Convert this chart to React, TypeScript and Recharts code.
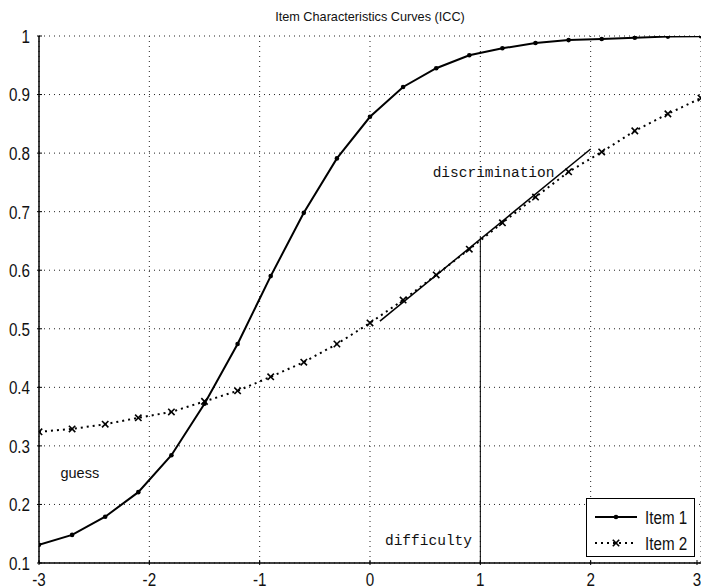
import {
  CartesianGrid,
  ComposedChart,
  Legend,
  Line,
  ReferenceDot,
  ReferenceLine,
  XAxis,
  YAxis
} from "recharts";

const theta = [-3, -2.7, -2.4, -2.1, -1.8, -1.5, -1.2, -0.9, -0.6, -0.3, 0, 0.3, 0.6, 0.9, 1.2, 1.5, 1.8, 2.1, 2.4, 2.7, 3];
const item1 = [0.131, 0.148, 0.179, 0.221, 0.284, 0.372, 0.474, 0.59, 0.698, 0.791, 0.862, 0.913, 0.945, 0.967, 0.979, 0.988, 0.993, 0.995, 0.997, 0.999, 0.9995];
const item2 = [0.324, 0.329, 0.337, 0.348, 0.358, 0.376, 0.394, 0.418, 0.443, 0.474, 0.51, 0.549, 0.592, 0.636, 0.681, 0.725, 0.768, 0.802, 0.838, 0.867, 0.894];

const xTicks = [-3, -2, -1, 0, 1, 2, 3];
const yTicks = [0.1, 0.2, 0.3, 0.4, 0.5, 0.6, 0.7, 0.8, 0.9, 1];

// tangent at the inflection point and the difficulty marker
const tangent = [
  { x: 0.09, y: 0.513 },
  { x: 2.0, y: 0.807 }
];
const difficulty = [
  { x: 1, y: 0.1 },
  { x: 1, y: 0.657 }
];

const notes = [
  { text: "guess", x: -2.63, y: 0.254, mono: false },
  { text: "discrimination", x: 1.12, y: 0.768, mono: true },
  { text: "difficulty", x: 0.53, y: 0.139, mono: true }
];

const data = theta.map((t, i) => ({ t, item1: item1[i], item2: item2[i] }));

const sans = "'Liberation Sans', Arial, sans-serif";
const monoFont = "'Liberation Mono', 'DejaVu Sans Mono', monospace";

// matlab's tick font is tall and narrow, squeeze a normal sans to match
const NarrowText = ({ x, y, anchor, dy, children }: any) => (
  <g transform={`translate(${x},${y}) scale(0.8,1)`}>
    <text x={0} y={0} dy={dy} textAnchor={anchor} fontSize={19} fontFamily={sans} fill="#111">
      {children}
    </text>
  </g>
);

const DotMarker = (p: any) => <circle key={p.index} cx={p.cx} cy={p.cy} r={2.3} fill="#000" />;

const CrossMarker = (p: any) => (
  <g key={p.index} stroke="#000" strokeWidth={1.6}>
    <line x1={p.cx - 3.2} y1={p.cy - 3.2} x2={p.cx + 3.2} y2={p.cy + 3.2} />
    <line x1={p.cx - 3.2} y1={p.cy + 3.2} x2={p.cx + 3.2} y2={p.cy - 3.2} />
  </g>
);

const XTick = (p: any) => (
  <g>
    <line x1={p.x} x2={p.x} y1={p.y - 7} y2={p.y - 12} stroke="#000" />
    <NarrowText x={p.x} y={p.y} dy="0.72em" anchor="middle">
      {p.payload.value}
    </NarrowText>
  </g>
);

const YTick = (p: any) => (
  <g>
    <line x1={p.x + 7} x2={p.x + 12} y1={p.y} y2={p.y} stroke="#000" />
    <NarrowText x={p.x} y={p.y} dy="0.36em" anchor="end">
      {p.payload.value}
    </NarrowText>
  </g>
);

function LegendBox() {
  return (
    <div style={{ width: 109, height: 59, boxSizing: "border-box", border: "1px solid #000", background: "#fff" }}>
      <svg width={107} height={57}>
        <line x1={8} x2={50} y1={18} y2={18} stroke="#000" strokeWidth={2} />
        <circle cx={29} cy={18} r={2.3} fill="#000" />
        <NarrowText x={58} y={18} dy="0.36em" anchor="start">Item 1</NarrowText>
        <line x1={8} x2={50} y1={44} y2={44} stroke="#000" strokeWidth={2} strokeDasharray="2 4" />
        <CrossMarker cx={29} cy={44} />
        <NarrowText x={58} y={44} dy="0.36em" anchor="start">Item 2</NarrowText>
      </svg>
    </div>
  );
}

export default function App() {
  return (
    <div style={{ position: "absolute", left: 0, top: 0, width: 701, height: 587, overflow: "hidden", background: "#fff" }}>
      <div
        style={{
          position: "absolute",
          top: 10,
          left: 0,
          width: 740,
          textAlign: "center",
          fontFamily: sans,
          fontSize: 12.7,
          color: "#111"
        }}
      >
        Item Characteristics Curves (ICC)
      </div>
      <ComposedChart width={701} height={587} data={data} margin={{ top: 36, right: 0, bottom: 0, left: 0 }}>
        <CartesianGrid stroke="#222" strokeDasharray="1 4" />
        <XAxis
          dataKey="t"
          type="number"
          domain={[-3, 3]}
          ticks={xTicks}
          height={24}
          tickSize={7}
          tickLine={false}
          tick={<XTick />}
          axisLine={{ stroke: "#000", strokeWidth: 1.5 }}
          allowDataOverflow
        />
        <YAxis
          type="number"
          domain={[0.1, 1]}
          ticks={yTicks}
          width={39}
          tickSize={7}
          tickLine={false}
          tick={<YTick />}
          axisLine={{ stroke: "#000", strokeWidth: 1.5 }}
          allowDataOverflow
        />
        <ReferenceLine segment={difficulty} stroke="#000" strokeWidth={1} />
        <ReferenceLine segment={tangent} stroke="#000" strokeWidth={1.5} />
        <Line
          dataKey="item2"
          type="linear"
          stroke="#000"
          strokeWidth={2}
          strokeDasharray="2 4"
          dot={CrossMarker}
          activeDot={false}
          isAnimationActive={false}
        />
        <Line
          dataKey="item1"
          type="linear"
          stroke="#000"
          strokeWidth={2}
          dot={DotMarker}
          activeDot={false}
          isAnimationActive={false}
        />
        {notes.map((n) => (
          <ReferenceDot
            key={n.text}
            x={n.x}
            y={n.y}
            r={0}
            fill="none"
            stroke="none"
            label={{
              value: n.text,
              position: "center",
              fontSize: 14.5,
              fontFamily: n.mono ? monoFont : sans,
              fill: "#111"
            }}
          />
        ))}
        <Legend
          layout="horizontal"
          verticalAlign="middle"
          align="center"
          wrapperStyle={{ left: 586, top: 498, width: 109, height: 59 }}
          content={() => <LegendBox />}
        />
      </ComposedChart>
    </div>
  );
}
